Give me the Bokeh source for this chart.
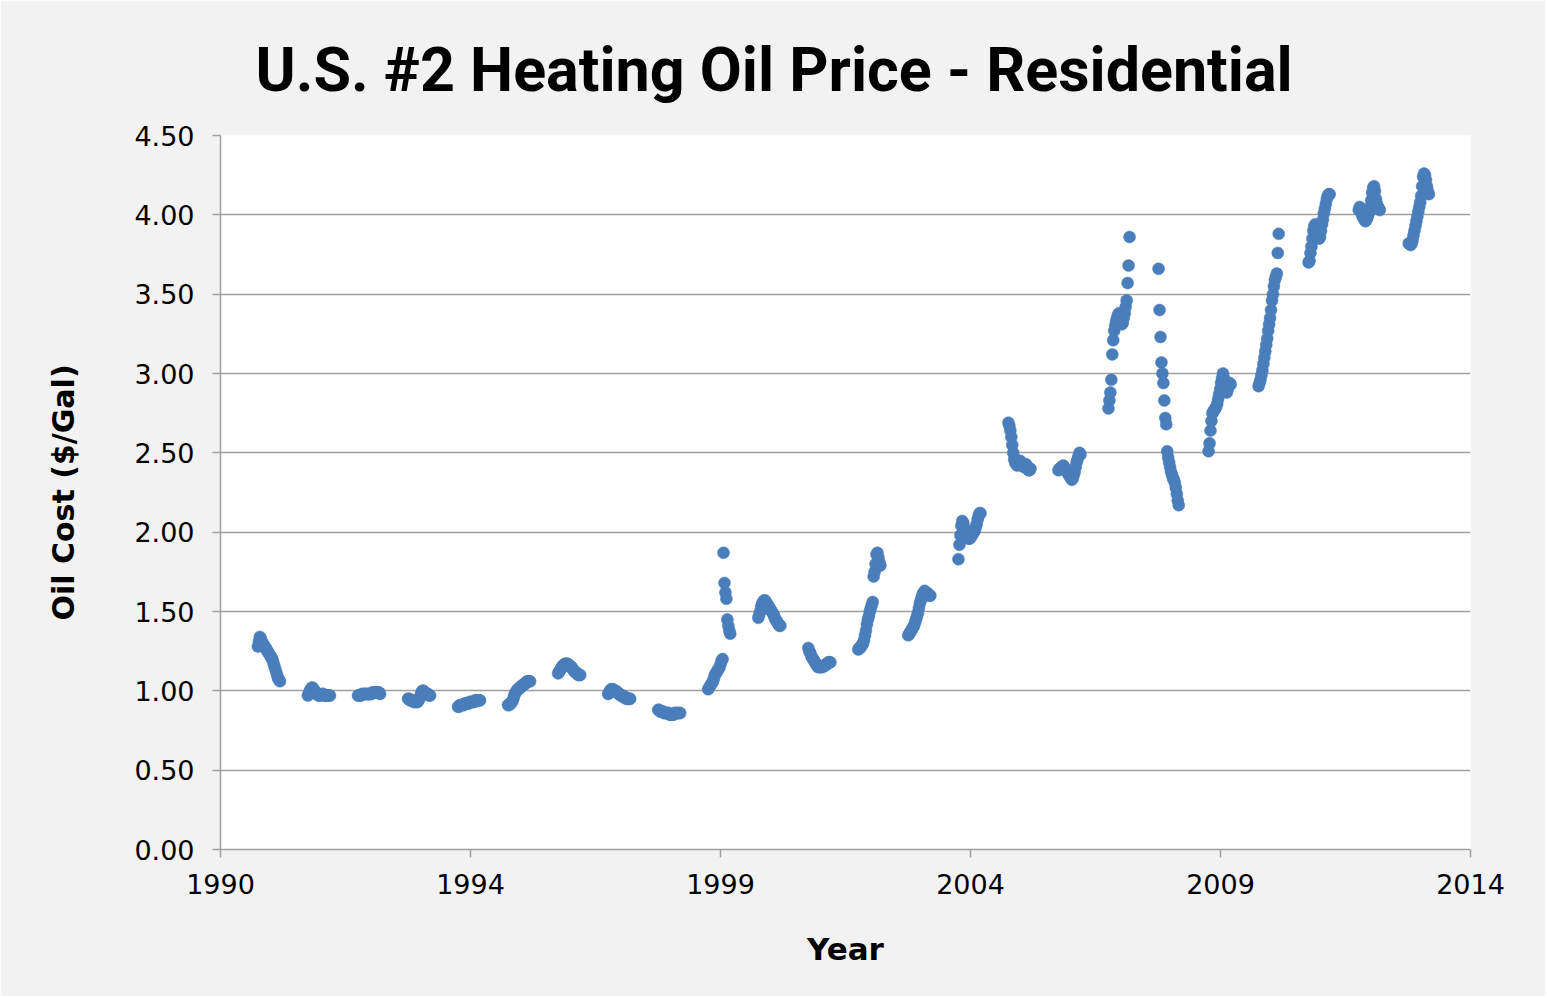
import pandas as pd
from bokeh.plotting import figure
from bokeh.models import ColumnDataSource, FixedTicker, Range1d, PrintfTickFormatter
from bokeh.embed import file_html
from bokeh.resources import INLINE

# ---------------- data (weekly residential prices, heating seasons Oct-Mar) ----------------
season_start_years = list(range(1990, 2014))

s1990 = [1.28, 1.31, 1.34, 1.33, 1.31, 1.30, 1.29, 1.28, 1.27, 1.26, 1.25, 1.24,
         1.23, 1.22, 1.21, 1.20, 1.18, 1.16, 1.14, 1.12, 1.10, 1.08, 1.07, 1.06]
s1991 = [0.97, 0.98, 1.00, 1.01, 1.02, 1.02, 1.01, 1.00, 0.99, 0.98, 0.98, 0.97,
         0.97, 0.97, 0.98, 0.98, 0.98, 0.97, 0.97, 0.97, 0.97, 0.97, 0.97, 0.97]
s1992 = [0.97, 0.97, 0.97, 0.97, 0.98, 0.98, 0.98, 0.98, 0.98, 0.98, 0.98, 0.98,
         0.98, 0.98, 0.98, 0.99, 0.99, 0.99, 0.99, 0.99, 0.99, 0.99, 0.99, 0.98]
s1993 = [0.95, 0.95, 0.94, 0.94, 0.94, 0.94, 0.93, 0.93, 0.93, 0.93, 0.93, 0.94,
         0.95, 0.97, 0.99, 1.00, 1.00, 0.99, 0.99, 0.98, 0.98, 0.98, 0.97, 0.97]
s1994 = [0.90, 0.90, 0.91, 0.91, 0.91, 0.91, 0.91, 0.92, 0.92, 0.92, 0.92, 0.92,
         0.93, 0.93, 0.93, 0.93, 0.93, 0.93, 0.94, 0.94, 0.94, 0.94, 0.94, 0.94]
s1995 = [0.91, 0.91, 0.92, 0.92, 0.93, 0.94, 0.96, 0.98, 0.99, 1.00, 1.01, 1.01,
         1.02, 1.02, 1.03, 1.03, 1.04, 1.04, 1.05, 1.05, 1.06, 1.06, 1.06, 1.06]
s1996 = [1.11, 1.12, 1.13, 1.14, 1.15, 1.16, 1.16, 1.17, 1.17, 1.17, 1.17, 1.16,
         1.16, 1.15, 1.15, 1.14, 1.13, 1.12, 1.12, 1.11, 1.11, 1.10, 1.10, 1.10]
s1997 = [0.98, 0.99, 1.00, 1.01, 1.01, 1.01, 1.00, 1.00, 1.00, 0.99, 0.99, 0.98,
         0.98, 0.97, 0.97, 0.97, 0.96, 0.96, 0.96, 0.95, 0.95, 0.95, 0.95, 0.95]
s1998 = [0.88, 0.88, 0.87, 0.87, 0.87, 0.87, 0.86, 0.86, 0.86, 0.86, 0.86, 0.86,
         0.85, 0.85, 0.85, 0.85, 0.85, 0.86, 0.86, 0.86, 0.86, 0.86, 0.86, 0.86]
s1999 = [1.01, 1.02, 1.03, 1.04, 1.05, 1.06, 1.08, 1.10, 1.11, 1.12, 1.13, 1.14,
         1.15, 1.17, 1.19, 1.20, 1.87, 1.68, 1.62, 1.58, 1.45, 1.41, 1.38, 1.36]
s2000 = [1.46, 1.48, 1.50, 1.53, 1.55, 1.56, 1.57, 1.57, 1.56, 1.55, 1.54, 1.53,
         1.52, 1.51, 1.50, 1.49, 1.48, 1.46, 1.45, 1.44, 1.43, 1.42, 1.41, 1.41]
s2001 = [1.27, 1.25, 1.24, 1.22, 1.21, 1.20, 1.19, 1.18, 1.17, 1.16, 1.15, 1.15,
         1.15, 1.15, 1.15, 1.15, 1.16, 1.16, 1.16, 1.17, 1.17, 1.18, 1.18, 1.18]
s2002 = [1.26, 1.27, 1.27, 1.28, 1.29, 1.30, 1.32, 1.35, 1.38, 1.42, 1.45, 1.47,
         1.50, 1.52, 1.54, 1.56, 1.72, 1.75, 1.80, 1.86, 1.87, 1.84, 1.81, 1.79]
s2003 = [1.35, 1.36, 1.37, 1.38, 1.39, 1.40, 1.41, 1.43, 1.45, 1.47, 1.49, 1.52,
         1.55, 1.57, 1.59, 1.61, 1.62, 1.63, 1.62, 1.62, 1.61, 1.61, 1.60, 1.60]
s2004 = [1.83, 1.92, 1.98, 2.04, 2.07, 2.06, 2.03, 2.00, 1.98, 1.97, 1.96, 1.96,
         1.96, 1.97, 1.98, 1.99, 2.00, 2.01, 2.03, 2.05, 2.08, 2.10, 2.12, 2.12]
s2005 = [2.69, 2.67, 2.64, 2.60, 2.55, 2.50, 2.46, 2.44, 2.43, 2.42, 2.43, 2.44,
         2.45, 2.44, 2.43, 2.42, 2.41, 2.42, 2.43, 2.42, 2.40, 2.39, 2.39, 2.40]
s2006 = [2.39, 2.40, 2.40, 2.41, 2.41, 2.42, 2.41, 2.40, 2.39, 2.38, 2.37, 2.36,
         2.35, 2.34, 2.33, 2.34, 2.36, 2.38, 2.41, 2.44, 2.46, 2.48, 2.50, 2.49]
s2007 = [2.78, 2.83, 2.88, 2.96, 3.12, 3.21, 3.27, 3.30, 3.33, 3.35, 3.37, 3.38,
         3.36, 3.33, 3.31, 3.32, 3.35, 3.38, 3.42, 3.46, 3.57, 3.68, 3.86]
s2008 = [3.66, 3.40, 3.23, 3.07, 3.00, 2.94, 2.83, 2.72, 2.68, 2.51, 2.47, 2.44,
         2.41, 2.38, 2.36, 2.34, 2.33, 2.31, 2.28, 2.24, 2.20, 2.17]
s2009 = [2.51, 2.56, 2.64, 2.70, 2.75, 2.76, 2.77, 2.78, 2.79, 2.81, 2.84, 2.87,
         2.90, 2.94, 2.97, 3.00, 2.97, 2.94, 2.91, 2.88, 2.90, 2.93, 2.94, 2.93]
s2010 = [2.92, 2.94, 2.96, 2.99, 3.02, 3.06, 3.10, 3.14, 3.18, 3.22, 3.27, 3.31,
         3.35, 3.40, 3.46, 3.50, 3.55, 3.59, 3.61, 3.63, 3.76, 3.88]
s2011 = [3.70, 3.71, 3.76, 3.80, 3.85, 3.90, 3.93, 3.94, 3.93, 3.90, 3.87, 3.85,
         3.86, 3.90, 3.94, 3.97, 4.01, 4.04, 4.07, 4.10, 4.12, 4.13, 4.13]
s2012 = [4.03, 4.05, 4.04, 4.01, 3.99, 3.98, 3.97, 3.96, 3.97, 3.98, 4.00, 4.02,
         4.05, 4.09, 4.14, 4.17, 4.18, 4.15, 4.10, 4.07, 4.05, 4.04, 4.03]
s2013 = [3.82, 3.82, 3.81, 3.82, 3.84, 3.87, 3.90, 3.93, 3.96, 3.99, 4.02, 4.05,
         4.08, 4.12, 4.18, 4.24, 4.26, 4.25, 4.22, 4.18, 4.15, 4.13]

season_values = [s1990, s1991, s1992, s1993, s1994, s1995, s1996, s1997, s1998, s1999,
                 s2000, s2001, s2002, s2003, s2004, s2005, s2006, s2007, s2008, s2009,
                 s2010, s2011, s2012, s2013]

# Axis ticks: Excel date axis, major unit 1825 days from 1 Jan 1990
tick_days = [0, 1825, 3650, 5475, 7300, 9125]
tick_labels = ["1990", "1994", "1999", "2004", "2009", "2014"]
y_ticks = [0.0, 0.5, 1.0, 1.5, 2.0, 2.5, 3.0, 3.5, 4.0, 4.5]

# ---------------- build table ----------------
origin = pd.Timestamp("1990-01-01")
xs, ys = [], []
for yr, vals in zip(season_start_years, season_values):
    dates = pd.date_range(start=f"{yr}-10-01", periods=len(vals), freq="7D")
    xs.extend([(d - origin).days for d in dates])
    ys.extend(vals)
source = ColumnDataSource(data=dict(day=xs, price=ys))

# ---------------- figure ----------------
p = figure(frame_width=1250, frame_height=714,
           min_border_left=220, min_border_right=75,
           min_border_top=135, min_border_bottom=147,
           x_range=Range1d(tick_days[0], tick_days[-1]),
           y_range=Range1d(0, 4.5),
           output_backend="svg", toolbar_location=None)

p.background_fill_color = "white"
p.border_fill_color = "#F2F2F2"
p.outline_line_color = None

p.scatter(x="day", y="price", source=source, size=12, marker="circle",
          fill_color="#4A7EBB", line_color="#4A7EBB", line_width=0.5)

tick_font = "DejaVu Sans"
grey = "#A0A0A0"

# title
p.title.text = "U.S. #2 Heating Oil Price - Residential"
p.title.align = "left"
p.title.offset = 35
p.title.standoff = 60
p.title.text_font = "Roboto"
p.title.text_font_style = "bold"
p.title.text_font_size = "61px"
p.title.text_color = "black"

# x axis
xa = p.xaxis[0]
xa.ticker = FixedTicker(ticks=tick_days)
xa.major_label_overrides = {d: l for d, l in zip(tick_days, tick_labels)}
xa.axis_label = "Year"
xa.axis_label_text_font = tick_font
xa.axis_label_text_font_style = "bold"
xa.axis_label_text_font_size = "31px"
xa.axis_label_text_color = "black"
xa.axis_label_standoff = 34
xa.major_label_text_font = tick_font
xa.major_label_text_font_size = "27px"
xa.major_label_text_color = "black"
xa.major_label_standoff = 16
xa.axis_line_color = grey
xa.axis_line_width = 1.5
xa.major_tick_line_color = grey
xa.major_tick_line_width = 1.5
xa.major_tick_out = 8
xa.major_tick_in = 0
xa.minor_tick_line_color = None

# y axis
ya = p.yaxis[0]
ya.ticker = FixedTicker(ticks=y_ticks)
ya.formatter = PrintfTickFormatter(format="%.2f")
ya.axis_label = "Oil Cost ($/Gal)"
ya.axis_label_text_font = tick_font
ya.axis_label_text_font_style = "bold"
ya.axis_label_text_font_size = "30px"
ya.axis_label_text_color = "black"
ya.axis_label_standoff = 50
ya.major_label_text_font = tick_font
ya.major_label_text_font_size = "27px"
ya.major_label_text_color = "black"
ya.major_label_standoff = 18
ya.axis_line_color = grey
ya.axis_line_width = 1.5
ya.major_tick_line_color = grey
ya.major_tick_line_width = 1.5
ya.major_tick_out = 8
ya.major_tick_in = 0
ya.minor_tick_line_color = None

p.xgrid.grid_line_color = None
p.ygrid.ticker = FixedTicker(ticks=y_ticks)
p.ygrid.grid_line_color = grey
p.ygrid.grid_line_width = 1.5

open("out.html", "w").write(file_html(p, INLINE))
